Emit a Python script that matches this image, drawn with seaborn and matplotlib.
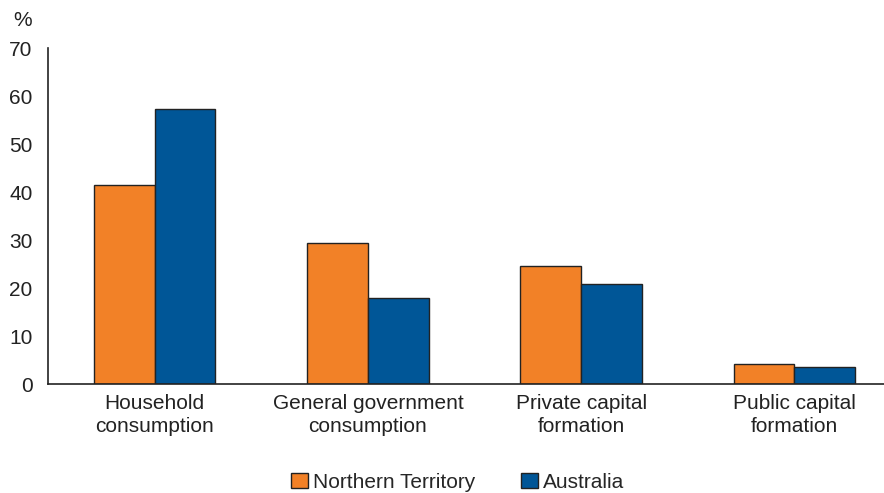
import pandas as pd
import seaborn as sns
import matplotlib.pyplot as plt

categories = ['Household\nconsumption', 'General government\nconsumption',
              'Private capital\nformation', 'Public capital\nformation']
northern_territory = [41.5, 29.4, 24.6, 4.2]
australia = [57.3, 17.9, 20.8, 3.5]

df = pd.DataFrame({
    'category': categories * 2,
    'value': northern_territory + australia,
    'region': ['Northern Territory'] * 4 + ['Australia'] * 4,
})

sns.set_style('white')
plt.rcParams['font.family'] = ['Liberation Sans', 'DejaVu Sans']

fig = plt.figure(figsize=(8.84, 4.93), dpi=100)
ax = fig.add_axes([48 / 884, 109 / 493, 836 / 884, 336 / 493])

sns.barplot(data=df, x='category', y='value', hue='region',
            palette=['#F28127', '#005697'], saturation=1, width=0.57,
            edgecolor='#222222', linewidth=1, ax=ax)

ax.set_ylim(0, 70)
ax.set_xlim(-0.5, 3.42)
ax.set_yticks(range(0, 71, 10))
ax.tick_params(axis='both', length=0, labelsize=15, colors='#222222')
ax.tick_params(axis='y', pad=11)
ax.tick_params(axis='x', pad=7)
for lbl in ax.get_xticklabels():
    lbl.set_linespacing(1.3)
ax.set_xlabel('')
ax.set_ylabel('')
for s in ['top', 'right']:
    ax.spines[s].set_visible(False)
for s in ['left', 'bottom']:
    ax.spines[s].set_color('#222222')
    ax.spines[s].set_linewidth(1.2)
ax.text(-0.019, 1.065, '%', transform=ax.transAxes, ha='right', fontsize=15, color='#222222')

ax.legend(loc='center', bbox_to_anchor=(0.49, -0.293), ncol=2, frameon=False,
          fontsize=15, handlelength=0.8, handleheight=0.7, handletextpad=0.25,
          columnspacing=2.2)

fig.savefig('out.png', dpi=100)
